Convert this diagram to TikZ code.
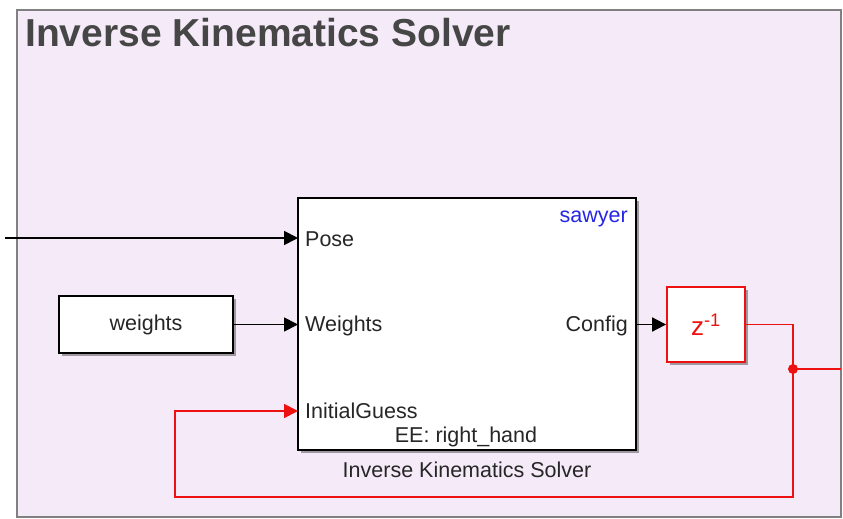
\documentclass[tikz,border=0pt]{standalone}
\usepackage{fontspec}
\setmainfont{Liberation Sans}
\usetikzlibrary{arrows.meta,shadows}
\definecolor{lav}{HTML}{F5EAF8}
\definecolor{titlegray}{HTML}{464646}
\definecolor{simred}{HTML}{EE1111}
\definecolor{simblue}{HTML}{2626E6}
\begin{document}
\begin{tikzpicture}[x=1pt,y=-1pt,
  blk/.style={draw=black, line width=1.8pt, fill=white, inner sep=0pt,
    drop shadow={shadow xshift=3pt,shadow yshift=-3pt,fill=black,opacity=0.35}},
  redblk/.style={blk, draw=simred},
  lbl/.style={inner sep=0pt, font=\fontsize{21.5}{25}\selectfont, text=black!85},
  wire/.style={line width=1.8pt, -{Triangle[length=14pt,width=14pt]}},
  redwire/.style={wire, draw=simred, -{Triangle[length=14pt,width=14pt,fill=simred]}},
  plainred/.style={line width=1.8pt, draw=simred}]
\useasboundingbox (0,0) rectangle (843,519);
% subsystem area
\draw[draw=black!50, line width=1.8pt, fill=lav] (17,10) rectangle (841,517);
\node[anchor=base west, inner sep=0pt, text=titlegray, font=\bfseries\fontsize{39}{44}\selectfont] (title) at (25,47) {Inverse Kinematics Solver};
% blocks
\node[blk, minimum width=338pt, minimum height=252pt] (ik) at (467,324) {};
\node[blk, minimum width=174pt, minimum height=57pt, font=\fontsize{21.5}{25}\selectfont, text=black!85] (w) at (146,324.5) {weights};
\node[redblk, minimum width=78pt, minimum height=75pt, text=simred, font=\fontsize{26}{30}\selectfont] (z) at (706,324.5) {z\textsuperscript{-1}};
% port labels
\node[lbl, anchor=west] (lpose) at (305,239) {Pose};
\node[lbl, anchor=west] (lweights) at (305,326) {Weights};
\node[lbl, anchor=west] (lguess) at (305,411) {InitialGuess};
\node[lbl, anchor=east] (lconfig) at (628,326) {Config};
\node[lbl, anchor=east, text=simblue] (lsawyer) at (628,219) {sawyer};
\node[lbl] (lee) at (466,437) {EE: right\_hand};
\node[lbl] (lname) at (467,470) {Inverse Kinematics Solver};
% port coordinates
\coordinate (pin1) at (298,238);
\coordinate (pin2) at (298,324.5);
\coordinate (pin3) at (298,411);
\coordinate (src) at (5,238);
\coordinate (br) at (793,369);
\coordinate (redout) at (841,369);
% connectors
\draw[wire] (src) -- (pin1);
\draw[wire] (w.east) -- (pin2);
\draw[wire] (ik.east |- z.west) -- (z.west);
\draw[plainred] (z.east) -| (br);
\draw[redwire] (br) |- (175,497) |- (pin3);
\draw[plainred] (br) -- (redout);
\fill[simred] (br) circle (5pt);
\end{tikzpicture}
\end{document}
